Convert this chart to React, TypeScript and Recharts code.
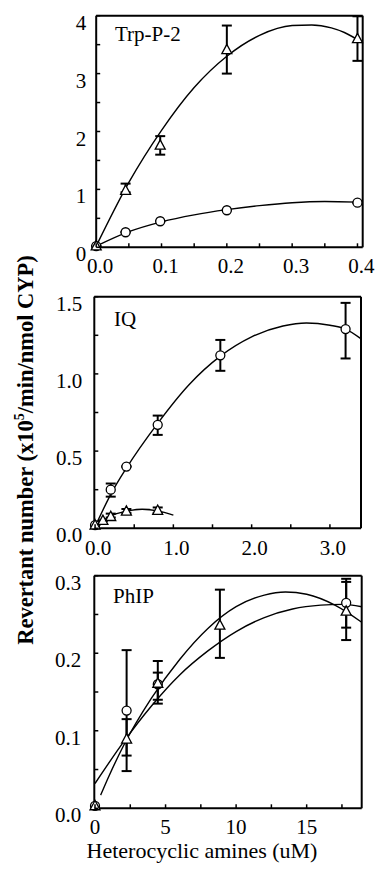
import React from "react";
import { ComposedChart, Line, Scatter, XAxis, YAxis, ErrorBar } from "recharts";

const SERIF = '"Liberation Serif", "Times New Roman", serif';

// ---- Trp-P-2 ----
const trpTriDose = [0, 0.045, 0.098, 0.2, 0.4];
const trpTri = [0.02, 0.98, 1.76, 3.41, 3.6];
const trpTriLow = [0.02, 0.95, 1.6, 3.0, 3.22];
const trpTriHigh = [0.02, 1.1, 1.92, 3.83, 3.99];
const trpCircDose = [0, 0.045, 0.098, 0.2, 0.4];
const trpCirc = [0.02, 0.26, 0.45, 0.64, 0.77];
const trpTriFitX = [0, 0.05, 0.1, 0.15, 0.2, 0.25, 0.3, 0.33, 0.36, 0.38, 0.408];
const trpTriFitY = [0.02, 1.12, 2.02, 2.76, 3.3, 3.66, 3.83, 3.84, 3.79, 3.71, 3.53];
const trpCircFitX = [0, 0.05, 0.1, 0.15, 0.2, 0.25, 0.3, 0.35, 0.4];
const trpCircFitY = [0.02, 0.27, 0.44, 0.56, 0.65, 0.72, 0.77, 0.79, 0.78];
const trpXTicks = [0, 0.05, 0.1, 0.15, 0.2, 0.25, 0.3, 0.35, 0.4];
const trpXLabels = ["0.0", "", "0.1", "", "0.2", "", "0.3", "", "0.4"];
const trpYTicks = [0, 0.5, 1, 1.5, 2, 2.5, 3, 3.5, 4];
const trpYLabels = ["0", "", "1", "", "2", "", "3", "", "4"];

// ---- IQ ----
const iqCircDose = [0, 0.2, 0.4, 0.8, 1.6, 3.2];
const iqCirc = [0.02, 0.25, 0.4, 0.67, 1.12, 1.29];
const iqCircLow = [0.02, 0.205, 0.4, 0.605, 1.02, 1.1];
const iqCircHigh = [0.02, 0.29, 0.4, 0.73, 1.22, 1.46];
const iqTriDose = [0, 0.1, 0.2, 0.4, 0.8];
const iqTri = [0.02, 0.05, 0.075, 0.11, 0.115];
const iqTriLow = [0.02, 0.05, 0.07, 0.1, 0.1];
const iqTriHigh = [0.02, 0.05, 0.095, 0.125, 0.135];
const iqCircFitX = [0, 0.2, 0.4, 0.8, 1.2, 1.6, 2.0, 2.4, 2.7, 3.0, 3.2, 3.39];
const iqCircFitY = [0.01, 0.22, 0.39, 0.68, 0.93, 1.115, 1.24, 1.31, 1.33, 1.315, 1.29, 1.23];
const iqTriFitX = [0, 0.1, 0.2, 0.4, 0.6, 0.8, 1.0];
const iqTriFitY = [0.01, 0.05, 0.08, 0.11, 0.123, 0.113, 0.085];
const iqXTicks = [0, 0.5, 1, 1.5, 2, 2.5, 3];
const iqXLabels = ["0.0", "", "1.0", "", "2.0", "", "3.0"];
const iqYTicks = [0, 0.25, 0.5, 0.75, 1, 1.25, 1.5];
const iqYLabels = ["0.0", "", "0.5", "", "1.0", "", "1.5"];

// ---- PhIP ----
const phipCircDose = [0, 2.24, 4.45, 17.8];
const phipCirc = [0.003, 0.126, 0.16, 0.265];
const phipCircLow = [0.003, 0.048, 0.135, 0.233];
const phipCircHigh = [0.003, 0.204, 0.19, 0.296];
const phipTriDose = [0, 2.24, 4.45, 8.85, 17.8];
const phipTri = [0.003, 0.089, 0.161, 0.236, 0.254];
const phipTriLow = [0.003, 0.068, 0.14, 0.194, 0.217];
const phipTriHigh = [0.003, 0.115, 0.175, 0.282, 0.292];
const phipFitAX = [0.4, 1, 2, 4, 6, 8, 10, 12, 13.5, 15, 17, 18.9];
const phipFitAY = [0.017, 0.042, 0.08, 0.142, 0.192, 0.232, 0.26, 0.275, 0.279, 0.276, 0.262, 0.24];
const phipFitBX = [0, 2, 4, 6, 8, 10, 12, 14, 16, 17.5, 18.9];
const phipFitBY = [0.032, 0.085, 0.132, 0.172, 0.203, 0.228, 0.246, 0.257, 0.262, 0.263, 0.26];
const phipXTicks = [0, 2.5, 5, 7.5, 10, 12.5, 15, 17.5];
const phipXLabels = ["0", "", "5", "", "10", "", "15", ""];
const phipYTicks = [0, 0.05, 0.1, 0.15, 0.2, 0.25, 0.3];
const phipYLabels = ["0.0", "", "0.1", "", "0.2", "", "0.3"];

type Row = { x: number; y: number; err: [number, number] };

function rows(dose: number[], vals: number[], low?: number[], high?: number[]): Row[] {
  return dose.map((x, i) => ({
    x,
    y: vals[i],
    err: [low ? vals[i] - low[i] : 0, high ? high[i] - vals[i] : 0],
  }));
}

function fit(xs: number[], ys: number[]) {
  return xs.map((x, i) => ({ x, y: ys[i] }));
}

const Circ = (p: any) => (
  <circle cx={p.cx} cy={p.cy} r={4.5} fill="#fff" stroke="#000" strokeWidth={1.3} />
);

const Tri = (p: any) => (
  <polygon
    points={`${p.cx},${p.cy - 5.5} ${p.cx - 5},${p.cy + 3.8} ${p.cx + 5},${p.cy + 3.8}`}
    fill="#fff"
    stroke="#000"
    strokeWidth={1.3}
  />
);

function XTick(props: any) {
  const { x, y, payload, ticks, labels, dx, dy } = props;
  const label = labels[ticks.indexOf(payload.value)];
  return (
    <g>
      <line x1={x} y1={y} x2={x} y2={y - 4} stroke="#000" strokeWidth={1.5} />
      {label ? (
        <text x={x + dx} y={y + dy} textAnchor="middle" fontFamily={SERIF} fontSize={21} fill="#000">
          {label}
        </text>
      ) : null}
    </g>
  );
}

function YTick(props: any) {
  const { x, y, payload, ticks, labels, gap } = props;
  const label = labels[ticks.indexOf(payload.value)];
  return (
    <g>
      <line x1={x} y1={y} x2={x + 4} y2={y} stroke="#000" strokeWidth={1.5} />
      {label ? (
        <text x={x - gap} y={y + 14} textAnchor="end" fontFamily={SERIF} fontSize={21} fill="#000">
          {label}
        </text>
      ) : null}
    </g>
  );
}

type PanelProps = {
  top: number;
  height: number;
  plot: { left: number; right: number; top: number; bottom: number };
  xDomain: [number, number];
  yDomain: [number, number];
  xTicks: number[];
  xLabels: string[];
  yTicks: number[];
  yLabels: string[];
  xDx: number;
  xDy: number;
  yGap: number;
  fits: { x: number; y: number }[][];
  circles: Row[];
  triangles: Row[];
};

function Panel(pp: PanelProps) {
  const { plot } = pp;
  const margin = { top: plot.top - pp.top - 1, right: 375 - plot.right - 1, left: 0, bottom: 0 };
  return (
    <div style={{ position: "absolute", left: 0, top: pp.top }}>
      <ComposedChart width={375} height={pp.height} margin={margin}>
        <XAxis
          type="number"
          dataKey="x"
          domain={pp.xDomain}
          ticks={pp.xTicks}
          interval={0}
          height={pp.top + pp.height - plot.bottom}
          tickLine={false}
          tickSize={0}
          tickMargin={0}
          axisLine={{ stroke: "#000", strokeWidth: 2 }}
          tick={(p: any) => <XTick {...p} ticks={pp.xTicks} labels={pp.xLabels} dx={pp.xDx} dy={pp.xDy} />}
        />
        <XAxis
          xAxisId="top"
          orientation="top"
          type="number"
          domain={[0, 1]}
          height={1}
          tick={false}
          tickLine={false}
          axisLine={{ stroke: "#000", strokeWidth: 2 }}
        />
        <YAxis
          type="number"
          dataKey="y"
          domain={pp.yDomain}
          ticks={pp.yTicks}
          interval={0}
          width={plot.left}
          tickLine={false}
          tickSize={0}
          tickMargin={0}
          axisLine={{ stroke: "#000", strokeWidth: 2 }}
          tick={(p: any) => <YTick {...p} ticks={pp.yTicks} labels={pp.yLabels} gap={pp.yGap} />}
        />
        <YAxis
          yAxisId="right"
          orientation="right"
          type="number"
          domain={[0, 1]}
          width={1}
          tick={false}
          tickLine={false}
          axisLine={{ stroke: "#000", strokeWidth: 2 }}
        />
        {pp.fits.map((f, i) => (
          <Line
            key={"fit" + i}
            data={f}
            dataKey="y"
            type="monotone"
            stroke="#000"
            strokeWidth={1.4}
            dot={false}
            activeDot={false}
            isAnimationActive={false}
          />
        ))}
        <Scatter data={pp.circles} dataKey="y" shape={Circ} isAnimationActive={false}>
          <ErrorBar dataKey="err" direction="y" width={5} stroke="#000" strokeWidth={2} isAnimationActive={false} />
        </Scatter>
        <Scatter data={pp.triangles} dataKey="y" shape={Tri} isAnimationActive={false}>
          <ErrorBar dataKey="err" direction="y" width={5} stroke="#000" strokeWidth={2} isAnimationActive={false} />
        </Scatter>
      </ComposedChart>
    </div>
  );
}

export default function App() {
  return (
    <div style={{ position: "absolute", left: 0, top: 0, width: 375, height: 874, background: "#fff" }}>
      <Panel
        top={0}
        height={290}
        plot={{ left: 96.2, right: 362.7, top: 15.7, bottom: 247.3 }}
        xDomain={[0, 0.408]}
        yDomain={[0, 4]}
        xTicks={trpXTicks}
        xLabels={trpXLabels}
        yTicks={trpYTicks}
        yLabels={trpYLabels}
        xDx={4}
        xDy={26}
        yGap={10}
        fits={[fit(trpTriFitX, trpTriFitY), fit(trpCircFitX, trpCircFitY)]}
        circles={rows(trpCircDose, trpCirc)}
        triangles={rows(trpTriDose, trpTri, trpTriLow, trpTriHigh)}
      />
      <Panel
        top={280}
        height={290}
        plot={{ left: 94.3, right: 361, top: 296.7, bottom: 528.3 }}
        xDomain={[-0.01, 3.397]}
        yDomain={[0, 1.5]}
        xTicks={iqXTicks}
        xLabels={iqXLabels}
        yTicks={iqYTicks}
        yLabels={iqYLabels}
        xDx={3}
        xDy={27}
        yGap={12}
        fits={[fit(iqCircFitX, iqCircFitY), fit(iqTriFitX, iqTriFitY)]}
        circles={rows(iqCircDose, iqCirc, iqCircLow, iqCircHigh)}
        triangles={rows(iqTriDose, iqTri, iqTriLow, iqTriHigh)}
      />
      <Panel
        top={560}
        height={300}
        plot={{ left: 94.3, right: 361.7, top: 575.7, bottom: 808.3 }}
        xDomain={[-0.05, 18.9]}
        yDomain={[0, 0.3]}
        xTicks={phipXTicks}
        xLabels={phipXLabels}
        yTicks={phipYTicks}
        yLabels={phipYLabels}
        xDx={0}
        xDy={26}
        yGap={13}
        fits={[fit(phipFitAX, phipFitAY), fit(phipFitBX, phipFitBY)]}
        circles={rows(phipCircDose, phipCirc, phipCircLow, phipCircHigh)}
        triangles={rows(phipTriDose, phipTri, phipTriLow, phipTriHigh)}
      />
      <svg
        width={375}
        height={874}
        style={{ position: "absolute", left: 0, top: 0, pointerEvents: "none" }}
        fontFamily={SERIF}
      >
        <text x={115} y={41} fontSize={21} fill="#000">Trp-P-2</text>
        <text x={114} y={325.5} fontSize={21} fill="#000">IQ</text>
        <text x={113} y={602.7} fontSize={21} fill="#000">PhIP</text>
        <text transform="translate(33,450) rotate(-90)" textAnchor="middle" fontSize={22.5} fontWeight="bold" fill="#000">
          Revertant number (x10<tspan dy={-9} fontSize={14}>5</tspan>
          <tspan dy={9}>/min/nmol CYP)</tspan>
        </text>
        <text x={202} y={858} textAnchor="middle" fontSize={22} fill="#000">Heterocyclic amines (uM)</text>
      </svg>
    </div>
  );
}
